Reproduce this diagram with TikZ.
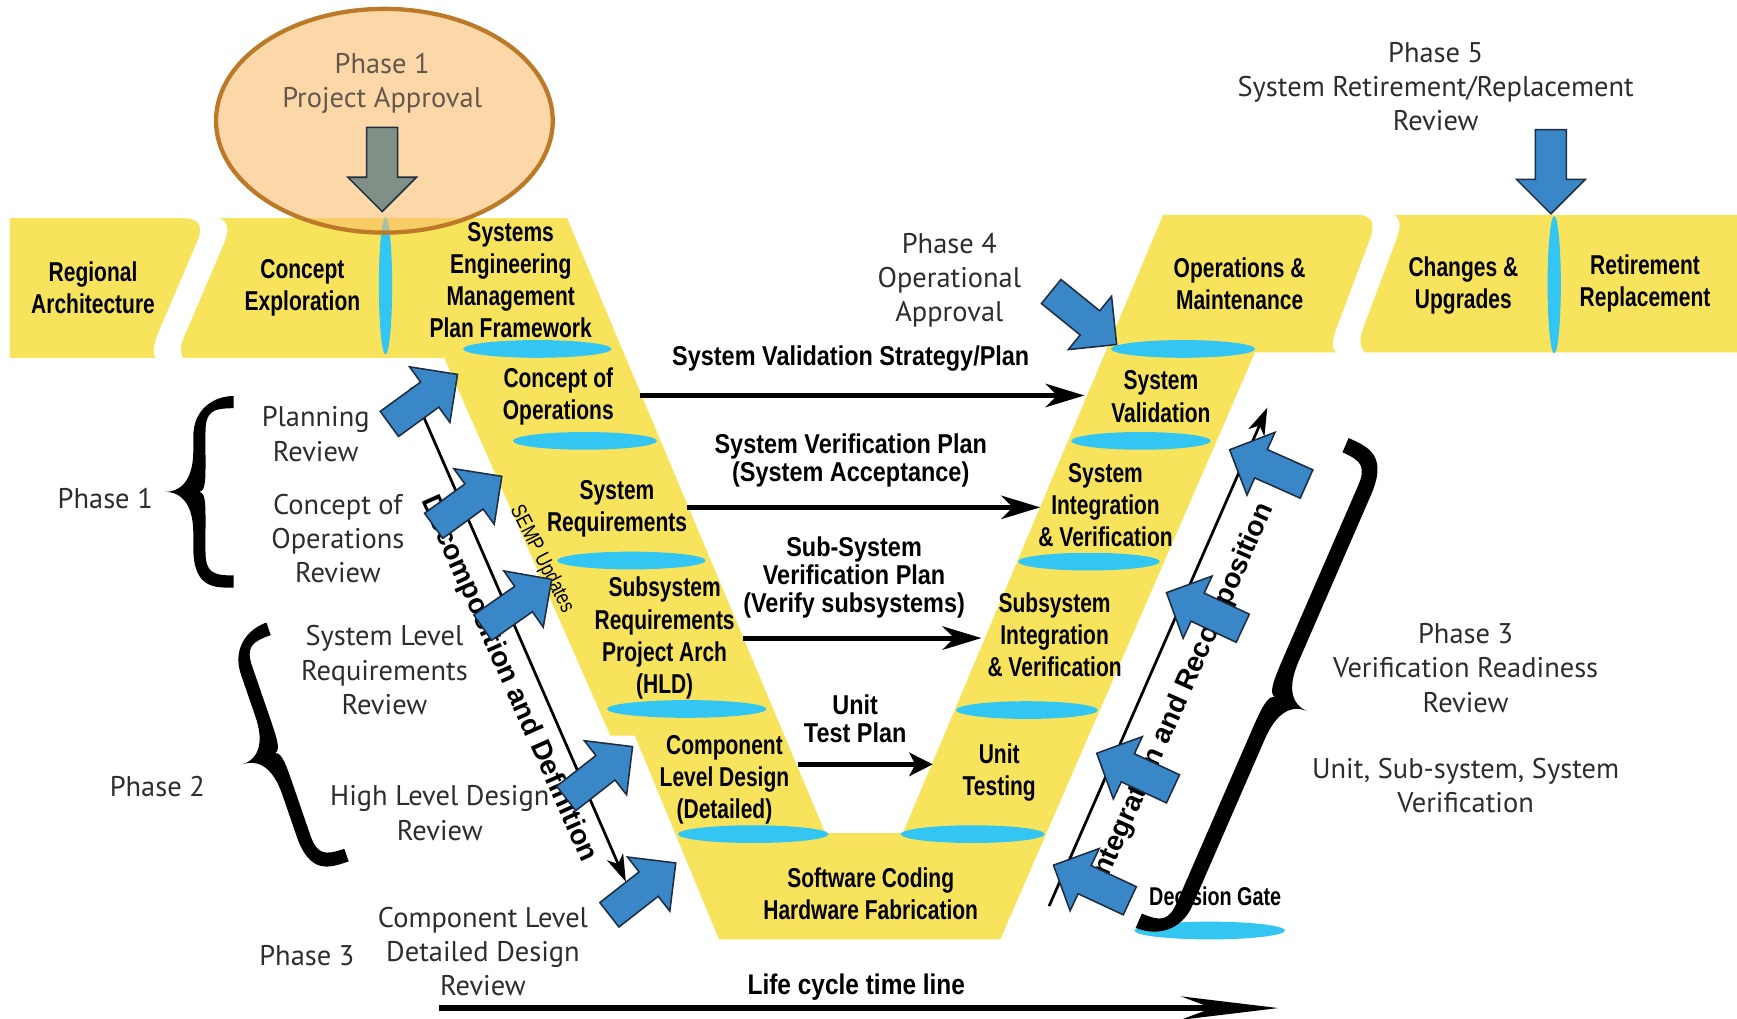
\documentclass[tikz,border=0pt]{standalone}
\usepackage{fontspec}
\setmainfont{PT Sans}
\newfontfamily\condbf[FakeStretch=0.77]{Liberation Sans Bold}
\newfontfamily\planbf[FakeStretch=0.86]{Liberation Sans Bold}
\newfontfamily\flowbf{Liberation Sans Bold}
\newfontfamily\sempfont[FakeStretch=0.8]{Liberation Sans}
\usetikzlibrary{arrows.meta}

\definecolor{vyellow}{RGB}{248,228,92}
\definecolor{gatecyan}{RGB}{52,198,242}
\definecolor{peachfill}{RGB}{250,190,110}
\definecolor{peachline}{RGB}{188,122,40}
\definecolor{reviewblue}{RGB}{58,135,200}
\definecolor{approvalgray}{RGB}{128,144,134}
\definecolor{arrowedge}{RGB}{30,45,65}
\definecolor{darktext}{RGB}{45,45,45}
\definecolor{approvaltext}{RGB}{100,88,76}

% block arrow: optional fill, tip, angle
\newcommand{\reviewarrow}[3][reviewblue]{%
  \filldraw[fill=#1, draw=arrowedge, line width=0.4pt, shift={#2}, rotate=#3]
    (0,0) -- (-31,31) -- (-31,14) -- (-76,14) -- (-76,-14) -- (-31,-14) -- (-31,-31) -- cycle;}

% curly brace: tip, angle, half height, width, half thickness
\newcommand{\phasebrace}[5]{%
  \begin{scope}[shift={#1}, rotate=#2]
    \pgfmathsetmacro\bh{#3}\pgfmathsetmacro\bw{#4}\pgfmathsetmacro\bt{#5}
    \pgfmathsetmacro\bs{0.5*\bw}
    \fill (\bw,-\bh-\bt) .. controls (\bs-\bt+0.3*\bw,-\bh-\bt) and (\bs-\bt,-\bh+0.1*\bw) .. (\bs-\bt,-\bh+0.5*\bw)
      -- (\bs-\bt,-0.6*\bw) .. controls (\bs-\bt,-0.2*\bw) and (0.25*\bw,0) .. (0,0)
      .. controls (0.25*\bw,0) and (\bs-\bt,0.2*\bw) .. (\bs-\bt,0.6*\bw)
      -- (\bs-\bt,\bh-0.5*\bw) .. controls (\bs-\bt,\bh+0.1*\bw) and (\bs-\bt+0.3*\bw,\bh+\bt) .. (\bw,\bh+\bt)
      -- (\bw,\bh-\bt) .. controls (\bs+\bt+0.1*\bw,\bh-\bt) and (\bs+\bt,\bh-\bt-0.05*\bw) .. (\bs+\bt,\bh-\bt-0.35*\bw)
      -- (\bs+\bt,0.6*\bw) .. controls (\bs+\bt,0.2*\bw) and (\bs+0.1*\bw,0.02*\bw) .. (\bs,0)
      .. controls (\bs+0.1*\bw,-0.02*\bw) and (\bs+\bt,-0.2*\bw) .. (\bs+\bt,-0.6*\bw)
      -- (\bs+\bt,-\bh+\bt+0.35*\bw) .. controls (\bs+\bt,-\bh+\bt+0.05*\bw) and (\bs+\bt+0.1*\bw,-\bh+\bt) .. (\bw,-\bh+\bt)
      -- cycle;
  \end{scope}}

\tikzset{
  box/.style={font=\condbf\fontsize{7}{8.25}\selectfont, align=center, inner sep=0pt},
  plan/.style={font=\planbf\fontsize{7}{7.2}\selectfont, align=center, inner sep=0pt},
  review/.style={font=\fontsize{7.3}{8.8}\selectfont, text=darktext, align=center, inner sep=0pt},
  gate/.style={fill=gatecyan},
  plan arrow/.style={line width=1.3pt, -{Stealth[length=10pt,width=6pt,inset=3pt]}},
  flow arrow/.style={line width=0.7pt, -{Stealth[length=7pt,width=4.5pt,inset=2pt]}},
}

\begin{document}
\begin{tikzpicture}[x=0.01cm,y=-0.01cm]
\useasboundingbox (0,0) rectangle (1568,919);

% yellow band and V
\fill[vyellow] (9,197) -- (165,197) .. controls (182,197) and (183,206) .. (178,218) -- (143,300) .. controls (138,312) and (138,318) .. (140,323) -- (9,323) -- cycle;
\fill[vyellow] (198,197) -- (512,197) -- (745,752) -- (815,752) -- (1050,194) -- (1225,194) .. controls (1240,194) and (1241,203) .. (1237,215) -- (1207,295) .. controls (1202,308) and (1202,314) .. (1206,318) -- (1133,318) -- (903,848) -- (649,848) -- (573,664) -- (551,664) -- (401,323) -- (165,323) .. controls (162,316) and (163,310) .. (168,300) -- (203,218) .. controls (207,208) and (206,199) .. (198,197) -- cycle;
\fill[vyellow] (1258,194) -- (1568,194) -- (1568,318) -- (1232,318) .. controls (1227,312) and (1227,306) .. (1231,295) -- (1261,215) .. controls (1265,204) and (1264,196) .. (1258,194) -- cycle;

% decision gates
\fill[gate] (485,315) ellipse (67 and 8);
\fill[gate] (528,398) ellipse (65 and 8);
\fill[gate] (570,506) ellipse (67 and 8);
\fill[gate] (620,640) ellipse (72 and 8);
\fill[gate] (680,753) ellipse (68 and 8);
\fill[gate] (878,753) ellipse (65 and 8);
\fill[gate] (927,641) ellipse (64 and 8);
\fill[gate] (983,507) ellipse (64 and 8);
\fill[gate] (1030,398) ellipse (63 and 8);
\fill[gate] (1068,315) ellipse (65 and 8);
\fill[gate] (1092,840) ellipse (68 and 8);
\fill[gate] (348,258) ellipse (6 and 62);
\fill[gate] (1403,257) ellipse (6 and 62);

% phase 1 approval
\filldraw[fill=peachfill, fill opacity=0.6, draw=peachline, line width=1.1pt] (347,109) ellipse (152 and 101);
\node[review, text=approvaltext] (approval) at (345,75) {Phase 1\\Project Approval};

% reviews
\node[review] (phasefive) at (1296,78) {Phase 5\\System Retirement/Replacement\\Review};
\node[review] (phasefour) at (857,253) {Phase 4\\Operational\\Approval};
\node[review] (planrev) at (285,392) {Planning\\Review};
\node[review] (phaseone) at (95,450) {Phase 1};
\node[review] (conopsrev) at (305,486) {Concept of\\Operations\\Review};
\node[review] (syslevrev) at (347,605) {System Level\\Requirements\\Review};
\node[review] (phasetwo) at (142,710) {Phase 2};
\node[review] (hldrev) at (397,734) {High Level Design\\Review};
\node[review] (complevrev) at (436,859) {Component Level\\Detailed Design\\Review};
\node[review] (phasethree) at (277,863) {Phase 3};
\node[review] (vrrrev) at (1323,603) {Phase 3\\Verification Readiness\\Review};
\node[review] (unitver) at (1323,709) {Unit, Sub-system, System\\Verification};

% V blocks
\node[box] (regional) at (84,260) {Regional\\Architecture};
\node[box] (conexp) at (273,260) {Concept\\Exploration};
\node[box] (semp) at (461,253) {Systems\\Engineering\\Management\\Plan Framework};
\node[box] (conops) at (504,358) {Concept of\\Operations};
\node[box] (sysreq) at (557,459) {System\\Requirements};
\node[box] (subreq) at (600,576) {Subsystem\\Requirements\\Project Arch\\(HLD)};
\node[box] (compdes) at (654,704) {Component\\Level Design\\(Detailed)};
\node[box] (swcode) at (786,807) {Software Coding\\Hardware Fabrication};
\node[box] (unittest) at (902,697) {Unit\\Testing};
\node[box] (subint) at (952,573) {Subsystem\\Integration\\\& Verification};
\node[box] (sysint) at (998,456) {System\\Integration\\\& Verification};
\node[box] (sysval) at (1048,358) {System\\Validation};
\node[box] (opsmaint) at (1119,256) {Operations \&\\Maintenance};
\node[box] (changes) at (1321,258) {Changes \&\\Upgrades};
\node[box] (retire) at (1485,256) {Retirement\\Replacement};

% plans
\node[plan] (valplan) at (768,324) {System Validation Strategy/Plan};
\node[plan] (verplan) at (768,416) {System Verification Plan\\(System Acceptance)};
\node[plan] (subverplan) at (771,521) {Sub-System\\Verification Plan\\(Verify subsystems)};
\node[plan] (unitplan) at (772,649) {Unit\\Test Plan};
\node[plan, font=\planbf\fontsize{7.3}{9}\selectfont] (lifecycle) at (773,891) {Life cycle time line};
\node[plan, font=\condbf\fontsize{6.6}{7}\selectfont] (gatelabel) at (1097,809) {Decision Gate};
\node[font=\sempfont\fontsize{5.5}{6}\selectfont, rotate=-63, inner sep=0pt] (sempupd) at (489,505) {SEMP Updates};
\node[font=\flowbf\fontsize{7.2}{8}\selectfont, rotate=-66, inner sep=0pt] (decomp) at (459,613) {Decomposition and Definition};
\node[font=\flowbf\fontsize{7.2}{8}\selectfont, rotate=66, inner sep=0pt] (recomp) at (1068,626) {Integration and Recomposition};

% plan arrows
\coordinate (valfrom) at (578,357);   \coordinate (valto) at (979,357);
\coordinate (verfrom) at (620,458);   \coordinate (verto) at (939,458);
\coordinate (subfrom) at (671,576);   \coordinate (subto) at (886,576);
\coordinate (unitfrom) at (720,690);  \coordinate (unitto) at (842,690);
\coordinate (lifefrom) at (396,910);  \coordinate (lifeto) at (1154,910);
\coordinate (decfrom) at (371,350);   \coordinate (decto) at (565,796);
\coordinate (intfrom) at (947,818);   \coordinate (intto) at (1144,368);
\draw[plan arrow] (valfrom) -- (valto);
\draw[plan arrow] (verfrom) -- (verto);
\draw[plan arrow] (subfrom) -- (subto);
\draw[plan arrow, -{Stealth[length=6pt,width=6pt,inset=1.5pt]}] (unitfrom) -- (unitto);
\draw[plan arrow, line width=1.5pt, -{Stealth[length=25pt,width=6pt,inset=8pt]}] (lifefrom) -- (lifeto);
\draw[flow arrow] (decfrom) -- (decto);
\draw[flow arrow] (intfrom) -- (intto);

% review arrows
\reviewarrow[approvalgray]{(345,191)}{-90}
\reviewarrow{(1400,193)}{-90}
\reviewarrow{(1008,311)}{-39}
\reviewarrow{(413,338)}{36}
\reviewarrow{(453,430)}{36}
\reviewarrow{(498,523)}{35}
\reviewarrow{(571,674)}{38}
\reviewarrow{(610,779)}{38}
\reviewarrow{(1110,406)}{156}
\reviewarrow{(1053,535)}{155}
\reviewarrow{(990,680)}{155}
\reviewarrow{(951,781)}{155}

% braces
\phasebrace{(149,444)}{0}{81}{62}{5.5}
\phasebrace{(219,690)}{19}{108}{62}{6}
\phasebrace{(1180,642)}{156.5}{234}{64}{7}
\end{tikzpicture}
\end{document}
